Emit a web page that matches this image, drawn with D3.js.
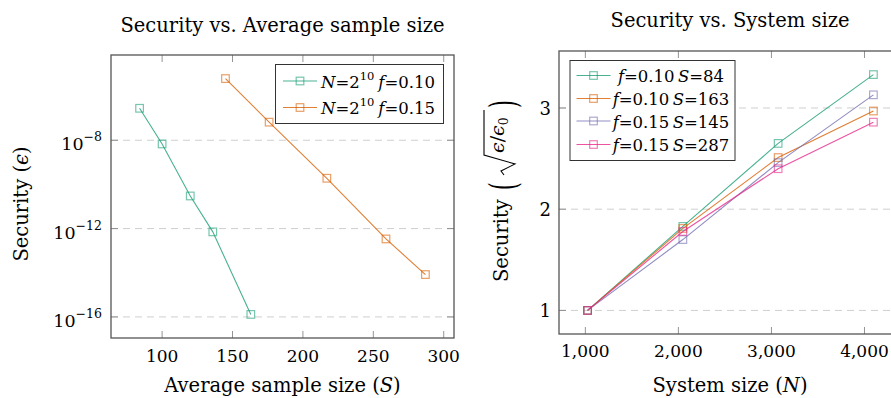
<!DOCTYPE html>
<html>
<head>
<meta charset="utf-8">
<script src="https://cdn.jsdelivr.net/npm/d3@7"></script>
<style>
  body { margin: 0; background: #fff; }
  svg { display: block; }
  text { font-family: "DejaVu Serif", serif; fill: #000; }
</style>
</head>
<body>
<svg id="chart" width="891" height="398"></svg>
<script>
// ---- left panel: security vs average sample size ----
const sampleF010 = [84, 100, 120, 136, 163];
const securityF010 = [2.8e-7, 6.8e-9, 3.0e-11, 7.1e-13, 1.3e-16];
const sampleF015 = [145, 176, 217, 259, 287];
const securityF015 = [6.2e-6, 6.6e-8, 1.9e-10, 3.4e-13, 8.3e-15];
const leftXTicks = [100, 150, 200, 250, 300];
const leftYTickExp = [-8, -12, -16];

// ---- right panel: security vs system size ----
const systemSize = [1024, 2048, 3072, 4096];
const secF010S84 = [1, 1.83, 2.65, 3.33];
const secF010S163 = [1, 1.81, 2.51, 2.97];
const secF015S145 = [1, 1.70, 2.46, 3.13];
const secF015S287 = [1, 1.78, 2.40, 2.86];
const rightXTicks = [1000, 2000, 3000, 4000];
const rightYTicks = [1, 2, 3];

const GREEN = '#1b9e77', ORANGE = '#d95f02', PURPLE = '#7570b3', PINK = '#e7298a';
const FS = 19.5;     // titles / axis labels
const TFS = 17;      // tick labels
const LFS = 16.5;    // legend

const svg = d3.select('#chart');
const TICK = 7;

// pgfplots style: enlarge limits by 10%
const enlarge = (vals, f = x => x) => {
  const lo = f(d3.min(vals)), hi = f(d3.max(vals)), p = (hi - lo) * 0.1;
  return [lo - p, hi + p];
};

const drawSeries = (g, xs, ys, x, y, color) => {
  const pts = xs.map((d, i) => [x(d), y(ys[i])]);
  g.append('path')
    .attr('d', d3.line()(pts))
    .attr('fill', 'none')
    .attr('stroke', color)
    .attr('stroke-opacity', 0.8)
    .attr('stroke-width', 1.1);
  g.selectAll(null)
    .data(pts)
    .enter()
    .append('rect')
    .attr('x', d => d[0] - 3.8)
    .attr('y', d => d[1] - 3.8)
    .attr('width', 7.6)
    .attr('height', 7.6)
    .attr('fill', 'none')
    .attr('stroke', color)
    .attr('stroke-opacity', 0.6)
    .attr('stroke-width', 1.2);
};

const drawFrame = (g, x0, x1, y0, y1, xTickPos, yTickPos) => {
  xTickPos.forEach(px => {
    g.append('line').attr('x1', px).attr('x2', px).attr('y1', y1).attr('y2', y1 - TICK)
      .attr('stroke', '#888').attr('stroke-width', 0.9);
    g.append('line').attr('x1', px).attr('x2', px).attr('y1', y0).attr('y2', y0 + TICK)
      .attr('stroke', '#888').attr('stroke-width', 0.9);
  });
  yTickPos.forEach(py => {
    g.append('line').attr('x1', x0).attr('x2', x0 + TICK).attr('y1', py).attr('y2', py)
      .attr('stroke', '#888').attr('stroke-width', 0.9);
    g.append('line').attr('x1', x1).attr('x2', x1 - TICK).attr('y1', py).attr('y2', py)
      .attr('stroke', '#888').attr('stroke-width', 0.9);
  });
  g.append('rect')
    .attr('x', x0).attr('y', y0)
    .attr('width', x1 - x0).attr('height', y1 - y0)
    .attr('fill', 'none')
    .attr('stroke', '#555')
    .attr('stroke-width', 1.3);
};

const drawGrid = (g, x0, x1, yPos) => {
  g.selectAll(null)
    .data(yPos)
    .enter()
    .append('line')
    .attr('x1', x0).attr('x2', x1)
    .attr('y1', d => d).attr('y2', d => d)
    .attr('stroke', '#cfcfcf')
    .attr('stroke-width', 1)
    .attr('stroke-dasharray', '7,5');
};

// ================= LEFT =================
{
  const L = { x0: 111, x1: 454, y0: 55, y1: 338 };
  const x = d3.scaleLinear()
    .domain(enlarge(sampleF010.concat(sampleF015)))
    .range([L.x0, L.x1]);
  const yLog = enlarge(securityF010.concat(securityF015), Math.log10);
  const y = d3.scaleLog()
    .domain([Math.pow(10, yLog[0]), Math.pow(10, yLog[1])])
    .range([L.y1, L.y0]);

  const g = svg.append('g').attr('class', 'left');
  const yTickPos = leftYTickExp.map(e => y(Math.pow(10, e)));
  drawGrid(g, L.x0, L.x1, yTickPos);

  drawSeries(g, sampleF010, securityF010, x, y, GREEN);
  drawSeries(g, sampleF015, securityF015, x, y, ORANGE);

  drawFrame(g, L.x0, L.x1, L.y0, L.y1, leftXTicks.map(x), yTickPos);

  // x tick labels
  g.selectAll('.xt')
    .data(leftXTicks)
    .enter()
    .append('text')
    .attr('class', 'xt')
    .attr('x', d => x(d))
    .attr('y', 362)
    .attr('text-anchor', 'middle')
    .attr('font-size', TFS)
    .text(d => d);

  // y tick labels 10^e
  leftYTickExp.forEach(e => {
    const t = g.append('text')
      .attr('x', 102)
      .attr('y', y(Math.pow(10, e)) + 10)
      .attr('text-anchor', 'end')
      .attr('font-size', TFS + 0.5);
    t.append('tspan').text('10');
    t.append('tspan').attr('dy', -9).attr('font-size', 12.5).text('\u2212' + Math.abs(e));
  });

  // title + labels
  g.append('text')
    .attr('x', (L.x0 + L.x1) / 2)
    .attr('y', 32)
    .attr('text-anchor', 'middle')
    .attr('font-size', FS)
    .text('Security vs. Average sample size');

  const xl = g.append('text')
    .attr('x', (L.x0 + L.x1) / 2)
    .attr('y', 392)
    .attr('text-anchor', 'middle')
    .attr('font-size', FS);
  xl.append('tspan').text('Average sample size (');
  xl.append('tspan').attr('font-style', 'italic').text('S');
  xl.append('tspan').text(')');

  const yl = g.append('text')
    .attr('transform', 'translate(28,204) rotate(-90)')
    .attr('text-anchor', 'middle')
    .attr('font-size', FS);
  yl.append('tspan').text('Security (');
  yl.append('tspan').attr('font-style', 'italic').text('\u03f5');
  yl.append('tspan').text(')');

  // legend
  const lg = g.append('g').attr('class', 'legend');
  lg.append('rect')
    .attr('x', 275.5).attr('y', 64.5)
    .attr('width', 168).attr('height', 59)
    .attr('fill', '#fff')
    .attr('stroke', '#333')
    .attr('stroke-width', 1);
  const leftLegend = [
    { f: '0.10', color: GREEN, cy: 81 },
    { f: '0.15', color: ORANGE, cy: 107.5 }
  ];
  leftLegend.forEach(d => {
    lg.append('line').attr('x1', 283).attr('x2', 317).attr('y1', d.cy).attr('y2', d.cy)
      .attr('stroke', d.color).attr('stroke-opacity', 0.8).attr('stroke-width', 1.1);
    lg.append('rect').attr('x', 300 - 3.8).attr('y', d.cy - 3.8).attr('width', 7.6).attr('height', 7.6)
      .attr('fill', 'none').attr('stroke', d.color).attr('stroke-opacity', 0.6).attr('stroke-width', 1.2);
    const t = lg.append('text')
      .attr('x', 378).attr('y', d.cy + 6.5)
      .attr('text-anchor', 'middle')
      .attr('font-size', LFS);
    t.append('tspan').attr('font-style', 'italic').text('N');
    t.append('tspan').text('=2');
    t.append('tspan').attr('dy', -8).attr('font-size', 11.5).text('10');
    t.append('tspan').attr('dy', 8).attr('dx', 4).attr('font-style', 'italic').text('f');
    t.append('tspan').text('=' + d.f);
  });
}

// ================= RIGHT =================
{
  const R = { x0: 559, x1: 902, y0: 51, y1: 334 };
  const x = d3.scaleLinear()
    .domain(enlarge(systemSize))
    .range([R.x0, R.x1]);
  const y = d3.scaleLinear()
    .domain(enlarge(secF010S84.concat(secF010S163, secF015S145, secF015S287)))
    .range([R.y1, R.y0]);

  const g = svg.append('g').attr('class', 'right');
  const yTickPos = rightYTicks.map(y);
  drawGrid(g, R.x0, R.x1, yTickPos);

  drawSeries(g, systemSize, secF010S84, x, y, GREEN);
  drawSeries(g, systemSize, secF010S163, x, y, ORANGE);
  drawSeries(g, systemSize, secF015S145, x, y, PURPLE);
  drawSeries(g, systemSize, secF015S287, x, y, PINK);

  drawFrame(g, R.x0, R.x1, R.y0, R.y1, rightXTicks.map(x), yTickPos);

  g.selectAll('.xt')
    .data(rightXTicks)
    .enter()
    .append('text')
    .attr('class', 'xt')
    .attr('x', d => x(d))
    .attr('y', 357)
    .attr('text-anchor', 'middle')
    .attr('font-size', TFS)
    .text(d => d3.format(',')(d));

  g.selectAll('.yt')
    .data(rightYTicks)
    .enter()
    .append('text')
    .attr('class', 'yt')
    .attr('x', 551)
    .attr('y', d => y(d) + 7)
    .attr('text-anchor', 'end')
    .attr('font-size', TFS + 1)
    .text(d => d);

  g.append('text')
    .attr('x', 730)
    .attr('y', 27)
    .attr('text-anchor', 'middle')
    .attr('font-size', FS)
    .text('Security vs. System size');

  const xl = g.append('text')
    .attr('x', 730)
    .attr('y', 392)
    .attr('text-anchor', 'middle')
    .attr('font-size', FS);
  xl.append('tspan').text('System size (');
  xl.append('tspan').attr('font-style', 'italic').text('N');
  xl.append('tspan').text(')');

  // y label: Security ( sqrt(eps/eps0) )
  const yl = g.append('g').attr('transform', 'translate(508,190) rotate(-90)');
  yl.append('text').attr('x', -92).attr('y', 0).attr('font-size', FS).text('Security');
  yl.append('text').attr('transform', 'translate(0,8) scale(1,1.9)').attr('font-size', 20).text('(');
  yl.append('path')
    .attr('d', 'M15,-4 L19,-7 L26,7 L35,-24 L80,-24')
    .attr('fill', 'none')
    .attr('stroke', '#000')
    .attr('stroke-width', 1.1);
  const frac = yl.append('text').attr('x', 37).attr('y', -4).attr('font-size', FS - 0.5);
  frac.append('tspan').attr('font-style', 'italic').text('\u03f5');
  frac.append('tspan').text('/');
  frac.append('tspan').attr('font-style', 'italic').text('\u03f5');
  frac.append('tspan').attr('dy', 4).attr('font-size', 12.5).text('0');
  yl.append('text').attr('transform', 'translate(82,8) scale(1,1.9)').attr('font-size', 20).text(')');

  // legend
  const lg = g.append('g').attr('class', 'legend');
  lg.append('rect')
    .attr('x', 570).attr('y', 60.5)
    .attr('width', 165).attr('height', 100)
    .attr('fill', '#fff')
    .attr('stroke', '#333')
    .attr('stroke-width', 1);
  const rightLegend = [
    { f: '0.10', s: '84', color: GREEN, cy: 75.5 },
    { f: '0.10', s: '163', color: ORANGE, cy: 98.5 },
    { f: '0.15', s: '145', color: PURPLE, cy: 121 },
    { f: '0.15', s: '287', color: PINK, cy: 144.5 }
  ];
  rightLegend.forEach(d => {
    lg.append('line').attr('x1', 576.5).attr('x2', 610.5).attr('y1', d.cy).attr('y2', d.cy)
      .attr('stroke', d.color).attr('stroke-opacity', 0.8).attr('stroke-width', 1.1);
    lg.append('rect').attr('x', 593.5 - 3.8).attr('y', d.cy - 3.8).attr('width', 7.6).attr('height', 7.6)
      .attr('fill', 'none').attr('stroke', d.color).attr('stroke-opacity', 0.6).attr('stroke-width', 1.2);
    const t = lg.append('text')
      .attr('x', 671).attr('y', d.cy + 6.5)
      .attr('text-anchor', 'middle')
      .attr('font-size', LFS);
    t.append('tspan').attr('font-style', 'italic').text('f');
    t.append('tspan').text('=' + d.f + '\u2009');
    t.append('tspan').attr('font-style', 'italic').text('S');
    t.append('tspan').text('=' + d.s);
  });
}
</script>
</body>
</html>
